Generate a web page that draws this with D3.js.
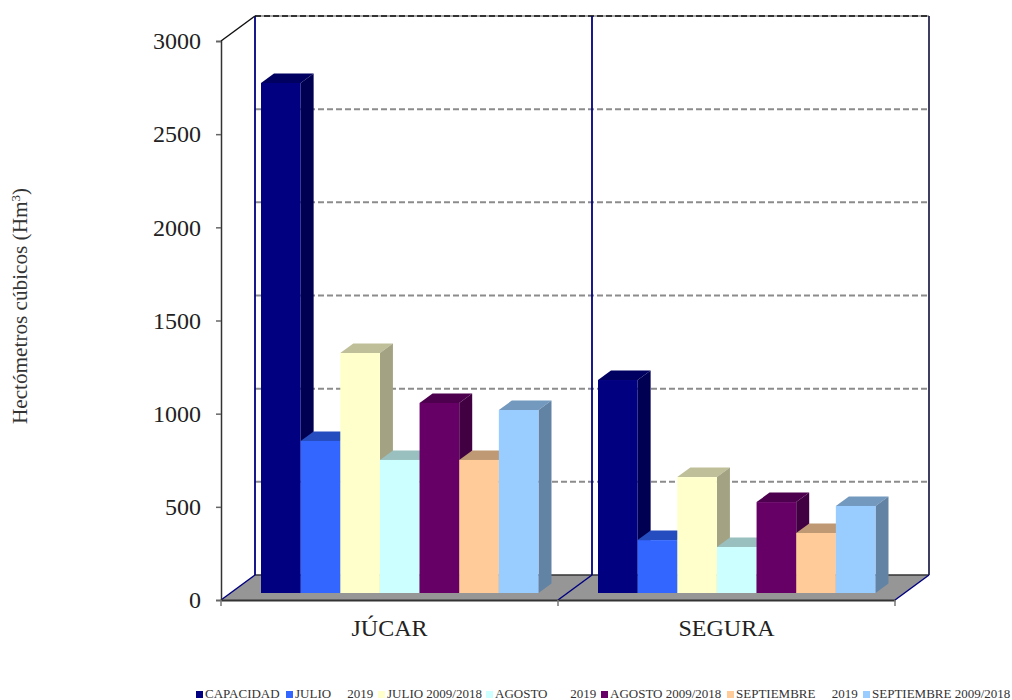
<!DOCTYPE html>
<html>
<head>
<meta charset="utf-8">
<script src="https://cdn.jsdelivr.net/npm/d3@7"></script>
<style>
  html, body { margin: 0; padding: 0; background: #fff; }
  svg { display: block; }
  text { font-family: "Liberation Serif", serif; fill: #333; }
</style>
</head>
<body>
<script>
var categories = ['JÚCAR', 'SEGURA'];
var seriesNames = ['CAPACIDAD', 'JULIO     2019', 'JULIO 2009/2018', 'AGOSTO       2019',
                   'AGOSTO 2009/2018', 'SEPTIEMBRE     2019', 'SEPTIEMBRE 2009/2018'];
var seriesColors = ['#000080', '#3366ff', '#ffffcc', '#ccffff', '#660066', '#ffcc99', '#99ccff'];
var jucarValues = [2737, 816, 1288, 714, 1020, 714, 982];
var seguraValues = [1143, 284, 622, 247, 488, 322, 467];
var yTicks = [0, 500, 1000, 1500, 2000, 2500, 3000];
var legendOffsets = [196, 286, 378, 486, 601, 727, 863]; // left edge of every legend key

var scr = { w: 1012, h: 700 };
var plot = { left: 221, right: 895, bottom: 600, top: 41 }; // The front plane of the box.
var depth = { x: 34, y: -25 }; // How far the back wall sits from the front plane.
var barDepth = { x: 13, y: -9.5 };
var barBase = 593; // Where the bars stand on the floor.

var svg = d3.select('body')
            .append('svg')
            .attr('width', scr.w)
            .attr('height', scr.h);

var xScale = d3.scaleBand()
               .domain(categories)
               .range([plot.left, plot.right]);

var barScale = d3.scaleBand()
                 .domain(d3.range(seriesNames.length))
                 .range([40, 317.5]);

var yScale = d3.scaleLinear() // The numbers that show on the axis.
               .domain([0, 3000])
               .range([plot.bottom, plot.top]);

var backY = function(v){ return yScale(v) + depth.y; };
var barY = function(v){ return yScale(v) - (plot.bottom - barBase); };

// Walls and floor
var box = svg.append('g').classed('box', true);

box.append('polygon')
   .attr('points', [[plot.left, plot.bottom],
                    [plot.left + depth.x, plot.bottom + depth.y],
                    [plot.right + depth.x, plot.bottom + depth.y],
                    [plot.right, plot.bottom]].join(' '))
   .attr('fill', '#969696');

box.append('line') // Grey line under the dashes along the top.
   .attr('x1', plot.left + depth.x)
   .attr('x2', plot.right + depth.x)
   .attr('y1', backY(3000))
   .attr('y2', backY(3000))
   .attr('stroke', '#aaa')
   .attr('stroke-width', 2);

box.selectAll('.grid')
   .data(yTicks.slice(1))
   .enter()
   .append('line')
   .classed('grid', true)
   .attr('x1', plot.left + depth.x)
   .attr('x2', plot.right + depth.x)
   .attr('y1', backY)
   .attr('y2', backY)
   .attr('stroke', function(d){ return d == 3000 ? '#333' : '#8c8c8c'; })
   .attr('stroke-width', 2)
   .attr('stroke-dasharray', '6 3');

box.append('line')
   .attr('x1', plot.left + depth.x)
   .attr('x2', plot.right + depth.x)
   .attr('y1', backY(0))
   .attr('y2', backY(0))
   .attr('stroke', '#333')
   .attr('stroke-width', 1.5);

// Navy wall edges and the floor diagonals
var dividers = [plot.left, plot.left + xScale.bandwidth(), plot.right];

box.selectAll('.wall')
   .data(dividers)
   .enter()
   .append('line')
   .classed('wall', true)
   .attr('x1', function(d){ return d + depth.x; })
   .attr('x2', function(d){ return d + depth.x; })
   .attr('y1', backY(3000))
   .attr('y2', backY(0))
   .attr('stroke', function(d, i){ return i == 2 ? '#2a2a50' : '#000080'; })
   .attr('stroke-width', 1.8);

box.selectAll('.diag')
   .data(dividers)
   .enter()
   .append('line')
   .classed('diag', true)
   .attr('x1', function(d){ return d; })
   .attr('x2', function(d){ return d + depth.x; })
   .attr('y1', yScale(0))
   .attr('y2', backY(0))
   .attr('stroke', '#000080')
   .attr('stroke-width', 1.5);

box.append('line') // Black top edge of the left wall.
   .attr('x1', plot.left)
   .attr('x2', plot.left + depth.x)
   .attr('y1', yScale(3000))
   .attr('y2', backY(3000))
   .attr('stroke', '#111')
   .attr('stroke-width', 1.5);

// Bars
var shade = function(color, k){
  var c = d3.rgb(color);
  return d3.rgb(c.r * k, c.g * k, c.b * k).formatHex();
};

var groups = [jucarValues, seguraValues];

groups.forEach(function(values, g){
  var bars = svg.append('g')
                .classed('group', true)
                .attr('transform', 'translate(' + xScale(categories[g]) + ',0)');

  var bar = bars.selectAll('g')
                .data(values)
                .enter()
                .append('g')
                .classed('bar', true);

  bar.append('polygon') // top
     .attr('points', function(d, i){
       var x = barScale(i), w = barScale.bandwidth(), y = barY(d);
       return [[x, y], [x + barDepth.x, y + barDepth.y],
               [x + w + barDepth.x, y + barDepth.y], [x + w, y]].join(' ');
     })
     .attr('fill', function(d, i){ return shade(seriesColors[i], 0.75); });

  bar.append('polygon') // side
     .attr('points', function(d, i){
       var x = barScale(i) + barScale.bandwidth(), y = barY(d);
       return [[x, y], [x + barDepth.x, y + barDepth.y],
               [x + barDepth.x, barBase + barDepth.y], [x, barBase]].join(' ');
     })
     .attr('fill', function(d, i){ return shade(seriesColors[i], 0.64); });

  bar.append('rect') // front
     .attr('x', function(d, i){ return barScale(i); })
     .attr('y', barY)
     .attr('width', barScale.bandwidth())
     .attr('height', function(d){ return barBase - barY(d); })
     .attr('fill', function(d, i){ return seriesColors[i]; });
});

// Axes
var yAxis = d3.axisLeft(yScale)
              .tickValues(yTicks)
              .tickFormat(d3.format('d'))
              .tickSize(5)
              .tickPadding(15);

var yAxisG = svg.append('g')
                .classed('yAxis', true)
                .attr('transform', 'translate(' + plot.left + ',0)')
                .call(yAxis);
yAxisG.selectAll('text').style('font-size', '24px').style('font-family', '"Liberation Serif", serif').style('fill', '#222');
yAxisG.selectAll('line').attr('stroke', '#666').attr('stroke-width', 1.5);
yAxisG.select('.domain').attr('stroke', '#333').attr('stroke-width', 1.5);

var xAxis = d3.axisBottom(xScale)
              .tickSize(0)
              .tickPadding(19);

var xAxisG = svg.append('g')
                .classed('xAxis', true)
                .attr('transform', 'translate(0,' + plot.bottom + ')')
                .call(xAxis);
xAxisG.selectAll('text').style('font-size', '24px').style('font-family', '"Liberation Serif", serif').style('fill', '#222');
xAxisG.select('.domain').attr('stroke', '#333').attr('stroke-width', 2);

xAxisG.selectAll('.edge')
      .data(dividers)
      .enter()
      .append('line')
      .classed('edge', true)
      .attr('x1', function(d){ return d; })
      .attr('x2', function(d){ return d; })
      .attr('y1', 0)
      .attr('y2', 6)
      .attr('stroke', '#777')
      .attr('stroke-width', 1.5);

// Axis title
var title = svg.append('text')
               .attr('transform', 'translate(27,306) rotate(-90)')
               .attr('text-anchor', 'middle')
               .style('font-size', '21.2px');
title.append('tspan').text('Hectómetros cúbicos (Hm');
title.append('tspan').attr('dy', -7).style('font-size', '13px').text('3');
title.append('tspan').attr('dy', 7).text(')');

// Legend
var legend = svg.selectAll('.legend')
                .data(seriesNames)
                .enter()
                .append('g')
                .classed('legend', true)
                .attr('transform', function(d, i){ return 'translate(' + legendOffsets[i] + ',694)'; });

legend.append('rect')
      .attr('x', 0)
      .attr('y', -3)
      .attr('width', 7)
      .attr('height', 7)
      .attr('fill', function(d, i){ return seriesColors[i]; });

legend.append('text')
      .attr('x', 9)
      .attr('y', 4)
      .style('font-size', '13px')
      .style('white-space', 'pre')
      .text(function(d){ return d; });
</script>
</body>
</html>
